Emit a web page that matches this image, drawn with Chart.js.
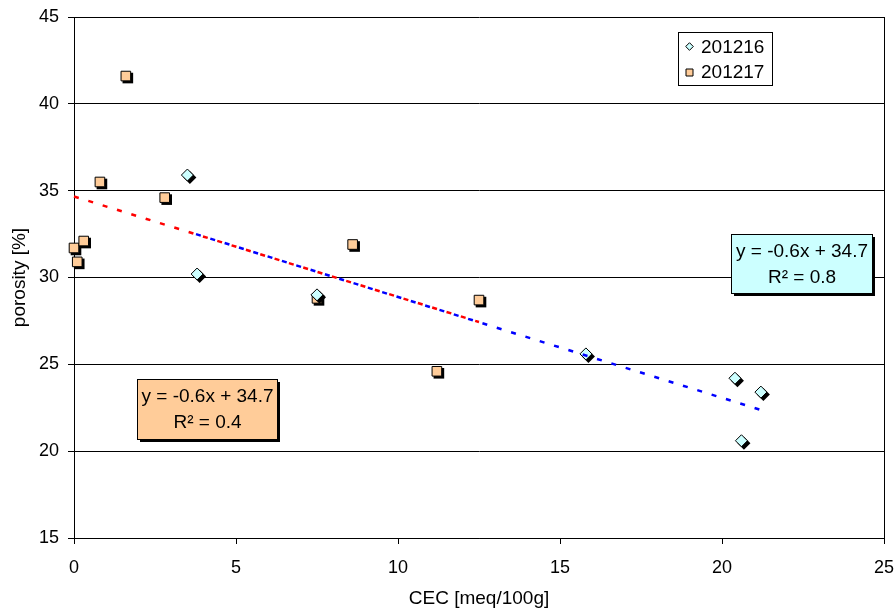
<!DOCTYPE html>
<html>
<head>
<meta charset="utf-8">
<script src="https://cdn.jsdelivr.net/npm/chart.js@4/dist/chart.umd.min.js"></script>
<style>
  html, body { margin: 0; padding: 0; background: #ffffff; }
  canvas { display: block; }
</style>
</head>
<body>
<canvas id="chart" width="896" height="613"></canvas>
<script>
// Series names (legend)
const seriesNames = ['201216', '201217'];

// Series 201216: CEC [meq/100g] vs porosity [%]
const cec201216 = [3.5, 3.8, 7.5, 15.8, 20.4, 20.6, 21.2];
const por201216 = [35.9, 30.2, 29.0, 25.6, 24.2, 20.6, 23.4];

// Series 201217: CEC [meq/100g] vs porosity [%]
const cec201217 = [0.0, 0.1, 0.3, 0.8, 1.6, 2.8, 7.5, 8.6, 11.2, 12.5];
const por201217 = [31.7, 30.9, 32.1, 35.5, 41.6, 34.6, 28.8, 31.9, 24.6, 28.7];

// Axis ticks
const xTickValues = [0, 5, 10, 15, 20, 25];
const yTickValues = [15, 20, 25, 30, 35, 40, 45];

const FONT = "'Liberation Sans', Arial, Helvetica, sans-serif";

function toPoints(xs, ys) {
  return xs.map((x, i) => ({ x: x, y: ys[i] }));
}

// Least-squares linear fit with coefficient of determination
function linearFit(xs, ys) {
  const n = xs.length;
  const mx = xs.reduce((a, b) => a + b, 0) / n;
  const my = ys.reduce((a, b) => a + b, 0) / n;
  let sxy = 0, sxx = 0, syy = 0;
  for (let i = 0; i < n; i++) {
    const dx = xs[i] - mx, dy = ys[i] - my;
    sxy += dx * dy; sxx += dx * dx; syy += dy * dy;
  }
  const slope = sxy / sxx;
  const intercept = my - slope * mx;
  return {
    slope: slope,
    intercept: intercept,
    r2: (sxy * sxy) / (sxx * syy),
    x0: Math.min(...xs),
    x1: Math.max(...xs)
  };
}

function fitLine(f) {
  return [
    { x: f.x0, y: f.slope * f.x0 + f.intercept },
    { x: f.x1, y: f.slope * f.x1 + f.intercept }
  ];
}

function fitText(f) {
  const s = f.slope.toFixed(1);
  const b = f.intercept.toFixed(1);
  return ['y = ' + s + 'x + ' + b, 'R\u00B2 = ' + f.r2.toFixed(1)];
}

const fit16 = linearFit(cec201216, por201216);
const fit17 = linearFit(cec201217, por201217);

const COLOR16 = '#ccffff';
const COLOR17 = '#ffcc99';

// Marker shapes
function diamondPath(ctx, x, y, r) {
  ctx.beginPath();
  ctx.moveTo(x, y - r);
  ctx.lineTo(x + r, y);
  ctx.lineTo(x, y + r);
  ctx.lineTo(x - r, y);
  ctx.closePath();
}
function squarePath(ctx, x, y, h) {
  ctx.beginPath();
  ctx.rect(x - h, y - h, 2 * h, 2 * h);
}

// Solid black drop shadow behind scatter markers
const markerShadow = {
  id: 'markerShadow',
  beforeDatasetDraw(chart, args) {
    const ds = chart.data.datasets[args.index];
    if (!ds.shadowShape) return;
    const ctx = chart.ctx;
    const meta = chart.getDatasetMeta(args.index);
    ctx.save();
    ctx.fillStyle = '#000000';
    meta.data.forEach(el => {
      if (ds.shadowShape === 'diamond') {
        diamondPath(ctx, el.x + 2.5, el.y + 2.5, ds.pointRadius + 0.5);
      } else {
        squarePath(ctx, el.x + 2, el.y + 2, ds.pointRadius * Math.SQRT1_2 + 0.5);
      }
      ctx.fill();
    });
    ctx.restore();
  }
};

// Plot frame, legend box and trendline equation boxes
const annotations = {
  id: 'annotations',
  afterDraw(chart) {
    const ctx = chart.ctx;
    const ca = chart.chartArea;
    ctx.save();

    // right edge of the plot frame
    ctx.strokeStyle = '#000000';
    ctx.lineWidth = 1;
    ctx.beginPath();
    ctx.moveTo(Math.round(ca.right) + 0.5, Math.round(ca.top));
    ctx.lineTo(Math.round(ca.right) + 0.5, Math.round(ca.bottom) + 1);
    ctx.stroke();

    // legend
    const lx = 678, ly = 32, lw = 94, lh = 53;
    ctx.fillStyle = '#ffffff';
    ctx.fillRect(lx, ly, lw, lh);
    ctx.strokeStyle = '#000000';
    ctx.strokeRect(lx + 0.5, ly + 0.5, lw, lh);

    ctx.font = '19px ' + FONT;
    ctx.textBaseline = 'alphabetic';
    ctx.textAlign = 'left';

    ctx.fillStyle = COLOR16;
    diamondPath(ctx, lx + 11.5, ly + 14.5, 3.8);
    ctx.fill();
    ctx.stroke();
    ctx.fillStyle = '#000000';
    ctx.fillText(seriesNames[0], lx + 23, ly + 20.5);

    ctx.fillStyle = COLOR17;
    squarePath(ctx, lx + 11.5, ly + 40.5, 3.5);
    ctx.fill();
    ctx.stroke();
    ctx.fillStyle = '#000000';
    ctx.fillText(seriesNames[1], lx + 23, ly + 45.5);

    // trendline equation boxes
    function noteBox(x, y, w, h, fill, lines) {
      ctx.fillStyle = '#000000';
      ctx.fillRect(x + 3, y + 3, w, h);
      ctx.fillStyle = fill;
      ctx.fillRect(x, y, w, h);
      ctx.strokeStyle = '#000000';
      ctx.lineWidth = 1;
      ctx.strokeRect(x + 0.5, y + 0.5, w, h);
      ctx.fillStyle = '#000000';
      ctx.font = '19px ' + FONT;
      ctx.textAlign = 'center';
      ctx.textBaseline = 'alphabetic';
      ctx.fillText(lines[0], x + w / 2 + 0.5, y + 23);
      ctx.fillText(lines[1], x + w / 2 + 0.5, y + 48.5);
    }
    noteBox(731, 234, 141, 59, COLOR16, fitText(fit16));
    noteBox(137, 379, 140, 60, COLOR17, fitText(fit17));

    ctx.restore();
  }
};

new Chart(document.getElementById('chart'), {
  type: 'scatter',
  data: {
    datasets: [
      {
        label: seriesNames[0],
        data: toPoints(cec201216, por201216),
        pointStyle: 'rectRot',
        pointRadius: 6,
        backgroundColor: COLOR16,
        borderColor: '#000000',
        borderWidth: 1,
        shadowShape: 'diamond',
        clip: false,
        order: 2
      },
      {
        label: seriesNames[1],
        data: toPoints(cec201217, por201217),
        pointStyle: 'rect',
        pointRadius: 6.8,
        backgroundColor: COLOR17,
        borderColor: '#000000',
        borderWidth: 1,
        shadowShape: 'square',
        clip: false,
        order: 2
      },
      {
        label: 'Linear (' + seriesNames[1] + ')',
        data: fitLine(fit17),
        showLine: true,
        pointRadius: 0,
        borderColor: '#ff0000',
        borderWidth: 2.5,
        borderDash: [5, 10],
        borderDashOffset: 0,
        fill: false,
        clip: false,
        order: 0
      },
      {
        label: 'Linear (' + seriesNames[0] + ')',
        data: fitLine(fit16),
        showLine: true,
        pointRadius: 0,
        borderColor: '#0000ff',
        borderWidth: 2.5,
        borderDash: [5, 10],
        borderDashOffset: 6,
        fill: false,
        clip: false,
        order: 1
      }
    ]
  },
  options: {
    responsive: false,
    animation: false,
    devicePixelRatio: 1,
    events: [],
    layout: { padding: { top: 17, right: 12, bottom: 0, left: 0 } },
    plugins: {
      legend: { display: false },
      tooltip: { enabled: false }
    },
    scales: {
      x: {
        type: 'linear',
        min: 0,
        max: 25,
        afterBuildTicks(scale) { scale.ticks = xTickValues.map(v => ({ value: v })); },
        afterFit(scale) {
          scale.height = 75;
          scale.paddingLeft = 0;
          scale.paddingRight = 0;
        },
        ticks: {
          color: '#000000',
          font: { family: FONT, size: 18 },
          padding: 13,
          maxRotation: 0
        },
        grid: {
          drawOnChartArea: false,
          drawTicks: true,
          tickLength: 6,
          color: '#000000'
        },
        border: { color: '#000000', width: 1 },
        title: {
          display: true,
          text: 'CEC [meq/100g]',
          color: '#000000',
          font: { family: FONT, size: 19 },
          padding: { top: 0, bottom: 3 }
        }
      },
      y: {
        type: 'linear',
        min: 15,
        max: 45,
        afterBuildTicks(scale) { scale.ticks = yTickValues.map(v => ({ value: v })); },
        afterFit(scale) {
          scale.width = 74;
          scale.paddingTop = 0;
          scale.paddingBottom = 0;
        },
        ticks: {
          color: '#000000',
          font: { family: FONT, size: 18 },
          padding: 9
        },
        grid: {
          drawTicks: true,
          tickLength: 6,
          color: '#000000'
        },
        border: { color: '#000000', width: 1 },
        title: {
          display: true,
          text: 'porosity [%]',
          color: '#000000',
          font: { family: FONT, size: 19 },
          padding: { top: 8, bottom: 0 }
        }
      }
    }
  },
  plugins: [markerShadow, annotations]
});
</script>
</body>
</html>
